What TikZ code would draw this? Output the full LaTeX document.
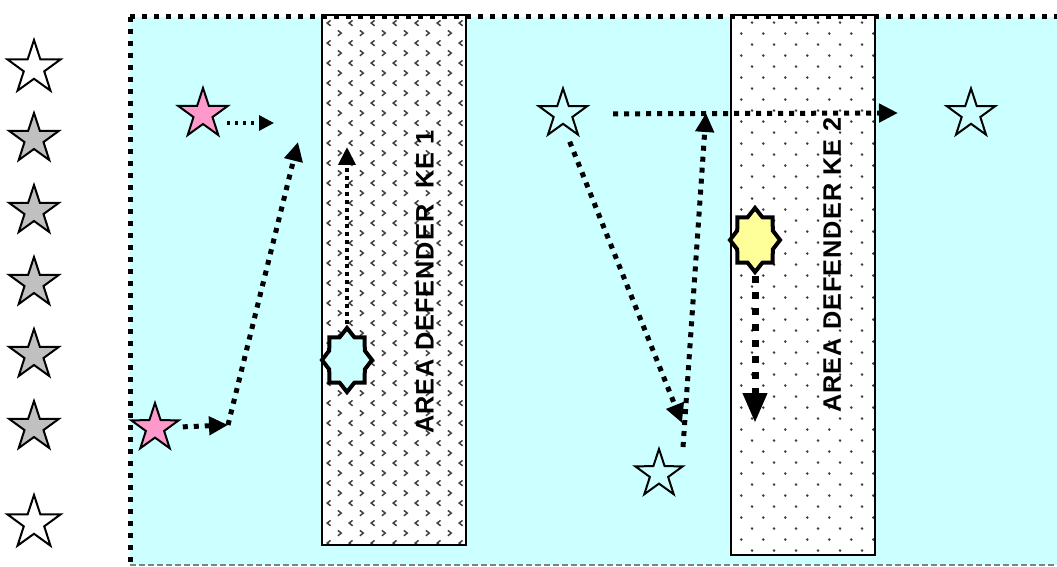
\documentclass[tikz,border=0pt]{standalone}
\usepackage{fontspec}
\setmainfont{Liberation Sans}
\usetikzlibrary{shapes.geometric,arrows.meta,patterns}
\pgfdeclarepatternformonly{chevrons}{\pgfpoint{0pt}{0pt}}{\pgfpoint{15.4pt}{14.2pt}}{\pgfpoint{15.4pt}{14.2pt}}{
  \pgfsetlinewidth{1.1pt}
  \pgfpathmoveto{\pgfpoint{4pt}{1.6pt}}\pgfpathlineto{\pgfpoint{1.6pt}{3.5pt}}\pgfpathlineto{\pgfpoint{4pt}{5.4pt}}
  \pgfpathmoveto{\pgfpoint{9.3pt}{8.7pt}}\pgfpathlineto{\pgfpoint{11.7pt}{10.6pt}}\pgfpathlineto{\pgfpoint{9.3pt}{12.5pt}}
  \pgfusepath{stroke}}
\pgfdeclarepatternformonly{sparsedots}{\pgfpoint{0pt}{0pt}}{\pgfpoint{15.4pt}{15.6pt}}{\pgfpoint{15.4pt}{15.6pt}}{
  \pgfpathcircle{\pgfpoint{3.85pt}{3.9pt}}{1pt}
  \pgfpathcircle{\pgfpoint{11.55pt}{11.7pt}}{1pt}
  \pgfusepath{fill}}
\definecolor{fieldcyan}{HTML}{CCFFFF}
\definecolor{pinkstar}{HTML}{FF99CC}
\definecolor{greystar}{HTML}{C0C0C0}
\definecolor{yellowdef}{HTML}{FFFF99}
\tikzset{
  star5/.style={star,star points=5,star point ratio=2.6,draw,line width=0.5mm,inner sep=0pt,minimum size=#1},
  octa/.style={star,star points=8,star point ratio=1.3,draw,line width=1mm,inner sep=0pt,minimum size=12.5mm,yscale=1.28,transform shape},
  area/.style={draw,line width=0.5mm,minimum width=36mm,inner sep=0pt,preaction={fill=white},pattern color=black!75},
  label/.style={rotate=90,font=\fontsize{18}{21}\selectfont\bfseries\addfontfeatures{LetterSpace=4}},
  border/.style={line width=1.25mm,dash pattern=on 1.25mm off 1.75mm},
  flow/.style={line width=1.25mm,dash pattern=on 1.25mm off 1.5mm,-{Triangle[length=4.75mm,width=4.5mm]}},
  thinflow/.style={line width=0.8mm,dash pattern=on 0.8mm off 1.2mm,-{Triangle[length=3.75mm,width=3.75mm]}},
  boldflow/.style={line width=1.75mm,dash pattern=on 1.75mm off 2.25mm,-{Triangle[length=7.5mm,width=5.75mm]}}
}
\begin{document}
\begin{tikzpicture}[x=0.25mm,y=-0.25mm]
\useasboundingbox (0,0) rectangle (1057,567);
\fill[fieldcyan] (130,17) rectangle (1057,565);
\node[area,minimum height=132.5mm,pattern=chevrons] (area1) at (394,280) {};
\node[area,minimum height=135mm,pattern=sparsedots] (area2) at (803,285) {};
\draw[border] (130,17) -- (1057,17);
\draw[border] (130,17) -- (130,565);
\draw[gray,line width=0.5mm,dash pattern=on 1.5mm off 0.75mm] (130,565) -- (1057,565);
\node[label] (lab1) at (425,282) {AREA DEFENDER\ \ KE 1};
\node[label] (lab2) at (832,265) {AREA DEFENDER KE 2};
\node[star5=14mm,fill=white] (l1) at (34,68) {};
\foreach \y [count=\i from 2] in {139,211,283,355,427} {\node[star5=13mm,fill=greystar] (l\i) at (34,\y) {};}
\node[star5=14mm,fill=white] (l7) at (34,523) {};
\node[star5=13mm,fill=pinkstar] (att1) at (203,114) {};
\node[star5=12.5mm,fill=pinkstar] (att2) at (155,428) {};
\node[star5=12.75mm,fill=fieldcyan] (s1) at (563,114) {};
\node[star5=12.5mm,fill=fieldcyan] (s2) at (659,474) {};
\node[star5=12.75mm,fill=fieldcyan] (s3) at (971,114) {};
\node[octa,fill=fieldcyan] (def1) at (347,360) {};
\node[octa,fill=yellowdef] (def2) at (755,240) {};
\coordinate (a1) at (274,123);
\coordinate (c1) at (228,425);
\coordinate (c2) at (298,142);
\coordinate (u1) at (347,147);
\coordinate (v1) at (682,423);
\coordinate (v2) at (683,447);
\coordinate (v3) at (706,113);
\coordinate (h1) at (898,113);
\coordinate (d1) at (755,423);
\draw[thinflow] ([shift={(24,9)}]att1.center) -- (a1);
\draw[flow,shorten <=3mm] (att2) -- (c1);
\draw[flow] (c1) -- (c2);
\draw[thinflow,line width=1mm,dash pattern=on 1mm off 1mm,-{Triangle[length=4.5mm,width=4.25mm]}] (def1) -- (u1);
\draw[flow,shorten <=4.5mm] (s1.south) -- (v1);
\draw[flow] (v2) -- (v3);
\draw[flow,shorten <=8.75mm] (s1) -- (h1);
\draw[boldflow] (def2) -- (d1);
\end{tikzpicture}
\end{document}
